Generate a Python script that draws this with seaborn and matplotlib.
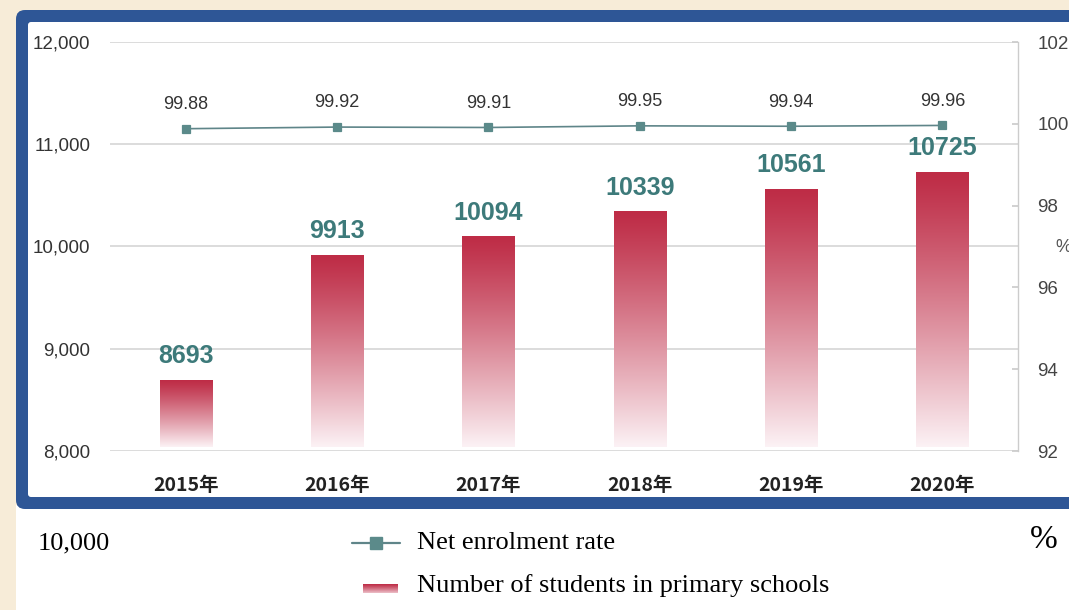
import numpy as np
import pandas as pd
import matplotlib
matplotlib.use("Agg")
import matplotlib.pyplot as plt
from matplotlib.patches import FancyBboxPatch, Rectangle
from matplotlib.lines import Line2D
from matplotlib.transforms import IdentityTransform
import seaborn as sns

# ---- data ----
years = ["2015年", "2016年", "2017年", "2018年", "2019年", "2020年"]
students = [8693, 9913, 10094, 10339, 10561, 10725]          # 10,000 persons
enrolment_rate = [99.88, 99.92, 99.91, 99.95, 99.94, 99.96]  # %
left_ticks = [8000, 9000, 10000, 11000, 12000]
right_ticks = [92, 94, 96, 98, 100, 102]

W, H = 1069, 610
sns.set_theme(style="white")
plt.rcParams["font.family"] = ["Liberation Sans", "Noto Sans CJK SC", "DejaVu Sans"]

fig = plt.figure(figsize=(W / 100, H / 100), dpi=100, facecolor="#f7ecd8")
PX = IdentityTransform()


def dy(py):
    """pixel row (from top) -> display y (from bottom)"""
    return H - py


# white page below the frame
fig.add_artist(Rectangle((16, 0), W, dy(505), transform=PX,
                         facecolor="white", edgecolor="none", zorder=0))
# blue rounded frame with white chart area
fig.add_artist(FancyBboxPatch((16, dy(509)), 1120, 499, transform=PX,
                              boxstyle="round,pad=0,rounding_size=9",
                              facecolor="#2e5696", edgecolor="none", zorder=0))
fig.add_artist(FancyBboxPatch((28, dy(497)), 1100, 475, transform=PX,
                              boxstyle="round,pad=0,rounding_size=3",
                              facecolor="white", edgecolor="none", zorder=0))

# vertical crimson-to-white gradient used for the bars
n = 256
t = np.linspace(0, 1, n) ** 1.15
top_c = np.array([190, 44, 70]) / 255
bot_c = np.array([252, 242, 245]) / 255
grad = (top_c[None, :] * (1 - t[:, None]) + bot_c[None, :] * t[:, None])[:, None, :]

# ---- main axes (bars) ----
L, R, T, B = 110, 1018, 42, 451
ax = fig.add_axes([L / W, 1 - B / H, (R - L) / W, (B - T) / H])
ax.set_facecolor("none")

df = pd.DataFrame({"year": years, "students": students, "rate": enrolment_rate})
sns.barplot(data=df, x="year", y="students", ax=ax, width=0.345,
            color="white", linewidth=0, alpha=0.0, zorder=2)

for p in ax.patches:
    x0, w, h = p.get_x(), p.get_width(), p.get_height()
    ax.imshow(grad, extent=[x0, x0 + w, left_ticks[0] + 40, h],
              aspect="auto", interpolation="bilinear", zorder=2)

ax.set_xlim(-0.5, len(years) - 0.5)
ax.set_ylim(left_ticks[0], left_ticks[-1])
ax.set_yticks(left_ticks)
ax.set_yticklabels([f"{v:,}" for v in left_ticks])
ax.yaxis.grid(True, color="#d9d9d9", linewidth=1.3, zorder=0)
ax.set_axisbelow(True)
for s in ax.spines.values():
    s.set_visible(False)
ax.tick_params(axis="y", length=0, pad=14, labelsize=13.5, labelcolor="#333333")
ax.set_xticks(range(len(years)))
ax.set_xticklabels(years)
ax.tick_params(axis="x", length=0, pad=18)
for lab in ax.get_xticklabels():
    lab.set_fontfamily(["Noto Sans CJK SC", "DejaVu Sans"])
    lab.set_fontweight("bold")
    lab.set_fontsize(14)
    lab.set_color("#222222")
ax.set_xticks(np.arange(len(years) - 1) + 0.5, minor=True)
ax.tick_params(axis="x", which="minor", length=4, color="#dddddd", direction="out")
ax.set_xlabel("")
ax.set_ylabel("")

# value labels on bars
for i, v in enumerate(students):
    ax.text(i, v + 235, f"{v}", ha="center", va="center", fontsize=18,
            fontweight="bold", color="#3d7a7a",
            family=["Liberation Sans Narrow", "Liberation Sans", "DejaVu Sans"])

# ---- secondary axes (rate line) ----
ax2 = ax.twinx()
ax2.set_facecolor("none")
sns.pointplot(data=df, x="year", y="rate", ax=ax2, color="#5f8589",
              markers="s", markersize=6, linewidth=1.2, errorbar=None)
for ln in ax2.lines:
    ln.set_markerfacecolor("#5b8a8a")
    ln.set_markeredgecolor("#5b8a8a")
for i, r in enumerate(enrolment_rate):
    ax2.text(i, r + 0.59, f"{r:.2f}", ha="center", va="center",
             fontsize=13, color="#333333")

ax2.set_xlim(-0.5, len(years) - 0.5)
ax2.set_ylim(right_ticks[0], right_ticks[-1])
ax2.set_yticks(right_ticks)
ax2.set_xlabel("")
ax2.set_ylabel("")
for k in ["top", "left", "bottom"]:
    ax2.spines[k].set_visible(False)
ax2.spines["right"].set_color("#cccccc")
ax2.spines["right"].set_linewidth(1.0)
ax2.tick_params(axis="y", direction="in", length=4, color="#cccccc",
                pad=14, labelsize=13.5, labelcolor="#444444")
ax2.tick_params(axis="x", length=0)

fig.text(1063 / W, 1 - 247 / H, "%", ha="center", va="center",
         fontsize=13, color="#555555")

# ---- caption row under the frame ----
serif = ["Liberation Serif", "DejaVu Serif"]
fig.text(38 / W, 1 - 543 / H, "10,000", ha="left", va="center",
         fontsize=19, family=serif, color="black")
fig.text(1044 / W, 1 - 540 / H, "%", ha="center", va="center",
         fontsize=24, family=serif, color="black")

fig.add_artist(Line2D([352, 400], [dy(543), dy(543)], transform=PX,
                      color="#5f8589", linewidth=1.6))
fig.add_artist(Line2D([376], [dy(543)], transform=PX, marker="s",
                      markersize=8, color="#5b8a8a", linestyle="none"))
fig.text(417 / W, 1 - 543 / H, "Net enrolment rate", ha="left", va="center",
         fontsize=19, family=serif, color="black")

# gradient swatch for the bar series
sw = fig.add_axes([363 / W, 1 - 593 / H, 35 / W, 9 / H])
sw.imshow(grad[:200], aspect="auto", interpolation="bilinear")
sw.set_axis_off()
fig.text(417 / W, 1 - 586 / H, "Number of students in primary schools",
         ha="left", va="center", fontsize=19, family=serif, color="black")

fig.savefig("out.png", dpi=100, facecolor=fig.get_facecolor())
